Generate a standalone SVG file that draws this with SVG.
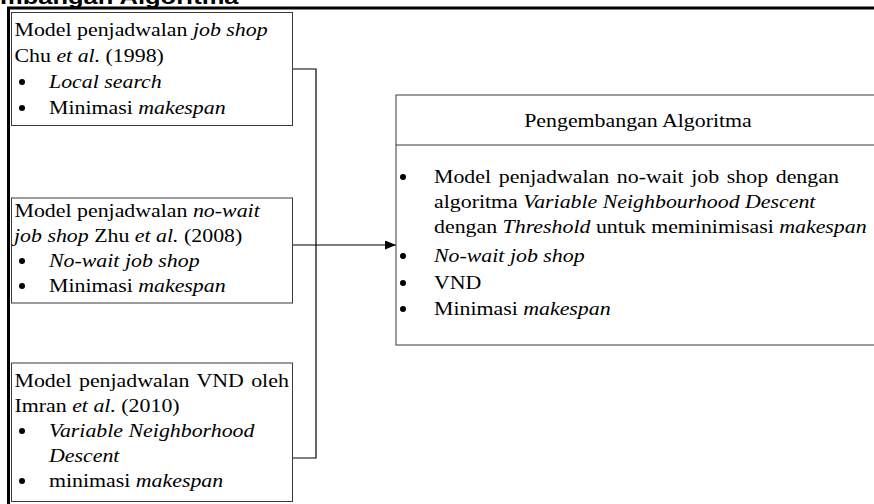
<svg xmlns="http://www.w3.org/2000/svg" width="874" height="504" viewBox="0 0 874 504">
<defs>
<style>
.t{font-family:"Liberation Serif","Times New Roman",serif;font-size:18px;fill:#000}
.i{font-style:italic}
.box{fill:#fff;stroke:#3a3a3a;stroke-width:1}
.c{fill:none;stroke:#000;stroke-width:1.2}
.b{fill:#000}
.title{font-family:"Liberation Sans",Arial,sans-serif;font-weight:bold;font-size:21px;fill:#000}
</style>
<marker id="arr" markerWidth="11" markerHeight="9" refX="11" refY="4.5" orient="auto" markerUnits="userSpaceOnUse">
<path d="M0,0 L11,4.5 L0,9 Z" fill="#000"/>
</marker>
</defs>
<rect width="874" height="504" fill="#fff"/>
<g id="frame">
<text class="title" transform="translate(0,4) scale(1.215,1)">mbangan Algoritma</text>
<line x1="7" y1="8" x2="874" y2="8" stroke="#000" stroke-width="3"/>
<line x1="8.5" y1="7" x2="8.5" y2="504" stroke="#000" stroke-width="3"/>
</g>
<g id="connectors">
<path class="c" d="M293,69 H316 V458 H293"/>
<path class="c" d="M293,245 H396" marker-end="url(#arr)"/>
</g>
<g id="box1">
<rect class="box" x="11.5" y="12.5" width="281" height="113"/>
<text class="t" transform="translate(14.5,35.5) scale(1.215,1)">Model penjadwalan <tspan class="i">job shop</tspan></text>
<text class="t" transform="translate(14.5,61.5) scale(1.215,1)">Chu <tspan class="i">et al.</tspan> (1998)</text>
<circle class="b" cx="22" cy="82" r="3"/>
<text class="t i" transform="translate(49,88) scale(1.215,1)">Local search</text>
<circle class="b" cx="22" cy="108" r="3"/>
<text class="t" transform="translate(49,114) scale(1.215,1)">Minimasi <tspan class="i">makespan</tspan></text>
</g>
<g id="box2">
<rect class="box" x="11.5" y="198" width="281" height="105"/>
<text class="t" transform="translate(14.5,217) scale(1.215,1)">Model penjadwalan <tspan class="i">no-wait</tspan></text>
<text class="t" transform="translate(14,242) scale(1.215,1)"><tspan class="i">job shop</tspan> Zhu <tspan class="i">et al.</tspan> (2008)</text>
<circle class="b" cx="22" cy="261" r="3"/>
<text class="t i" transform="translate(49,267) scale(1.215,1)">No-wait job shop</text>
<circle class="b" cx="22" cy="286" r="3"/>
<text class="t" transform="translate(49,292) scale(1.215,1)">Minimasi <tspan class="i">makespan</tspan></text>
</g>
<g id="box3">
<rect class="box" x="11.5" y="363" width="281" height="138.5"/>
<text class="t" transform="translate(14.5,387) scale(1.215,1)" word-spacing="1.6">Model penjadwalan VND oleh</text>
<text class="t" transform="translate(14.5,412) scale(1.215,1)">Imran <tspan class="i">et al.</tspan> (2010)</text>
<circle class="b" cx="22" cy="431" r="3"/>
<text class="t i" transform="translate(49,437) scale(1.215,1)">Variable Neighborhood</text>
<text class="t i" transform="translate(49,462) scale(1.215,1)">Descent</text>
<circle class="b" cx="22" cy="481" r="3"/>
<text class="t" transform="translate(49,487) scale(1.215,1)">minimasi <tspan class="i">makespan</tspan></text>
</g>
<g id="box4">
<rect class="box" x="396" y="95" width="480" height="250"/>
<line x1="396" y1="145" x2="876" y2="145" stroke="#3a3a3a" stroke-width="1"/>
<text class="t" text-anchor="middle" transform="translate(638,127) scale(1.215,1)">Pengembangan Algoritma</text>
<circle class="b" cx="403" cy="177" r="3"/>
<text class="t" transform="translate(434,183) scale(1.215,1)" word-spacing="1.8">Model penjadwalan no-wait job shop dengan</text>
<text class="t" transform="translate(434,208) scale(1.215,1)">algoritma <tspan class="i">Variable Neighbourhood Descent</tspan></text>
<text class="t" transform="translate(434,233) scale(1.215,1)">dengan <tspan class="i">Threshold</tspan> untuk meminimisasi <tspan class="i">makespan</tspan></text>
<circle class="b" cx="403" cy="256" r="3"/>
<text class="t i" transform="translate(434,262) scale(1.215,1)">No-wait job shop</text>
<circle class="b" cx="403" cy="283" r="3"/>
<text class="t" transform="translate(434,289) scale(1.215,1)">VND</text>
<circle class="b" cx="403" cy="309" r="3"/>
<text class="t" transform="translate(434,315) scale(1.215,1)">Minimasi <tspan class="i">makespan</tspan></text>
</g>
</svg>
